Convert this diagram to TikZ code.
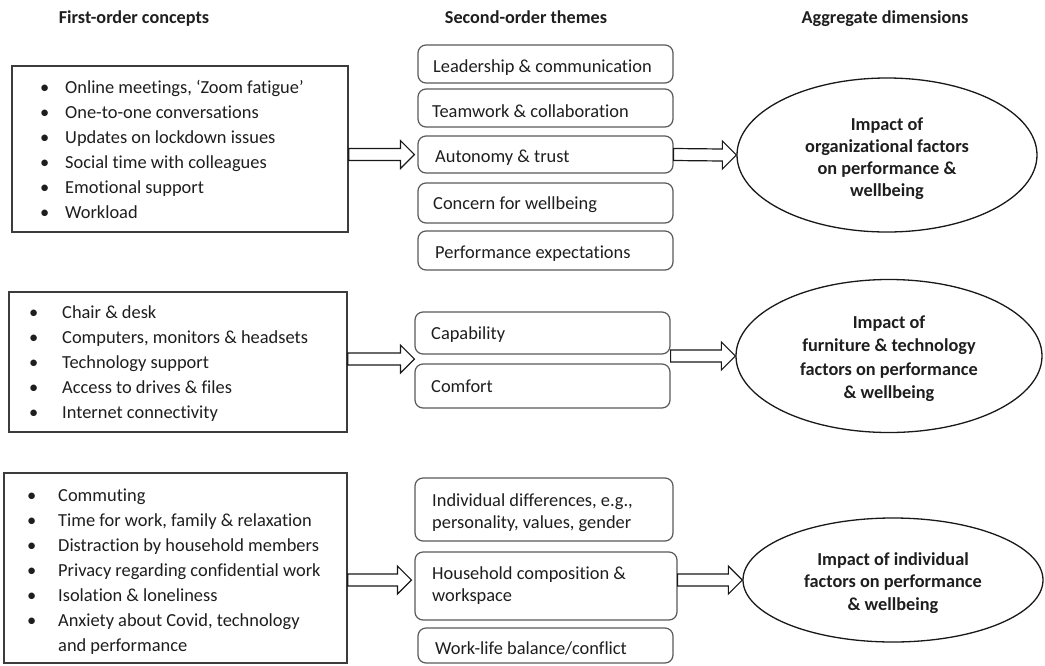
\documentclass[tikz,border=0pt]{standalone}
\usepackage{fontspec}
\setmainfont{Carlito}[Ligatures=NoCommon]
\usetikzlibrary{calc,shapes.geometric}
\definecolor{ln}{HTML}{3C3C3C}
\definecolor{rl}{HTML}{5A5A5A}
\definecolor{tx}{HTML}{1E1E1E}
\tikzset{
  bodyfont/.style={font=\fontsize{18.4}{22}\selectfont},
  headfont/.style={font=\bfseries\fontsize{18.2}{22}\selectfont},
  conceptbox/.style={draw=ln, line width=1.5pt, rectangle, inner sep=0pt},
  themebox/.style={draw=rl, line width=1.2pt, rectangle, rounded corners=8pt, inner sep=0pt},
  dimension/.style={draw=black!90, line width=1.3pt, ellipse, inner sep=0pt},
  dimtext/.style={anchor=base, inner sep=0pt, text=tx, font=\bfseries\fontsize{18.3}{22.5}\selectfont},
  txt/.style={anchor=base west, inner sep=0pt, text=tx, bodyfont},
  hdr/.style={anchor=base, inner sep=0pt, text=tx, headfont},
  blk/.style={draw=black!90, line width=1.2pt, fill=white, line join=miter}
}
\newcommand\blkarrow[2]{%
  \draw[blk] ($(#1)+(0,6)$) -- ($(#2)+(-14,6)$) -- ($(#2)+(-14,14)$) -- (#2)
    -- ($(#2)+(-14,-14)$) -- ($(#2)+(-14,-6)$) -- ($(#1)+(0,-6)$) -- cycle;}
\begin{document}
\begin{tikzpicture}[x=1pt,y=-1pt]
\useasboundingbox (0,0) rectangle (1045,665);
\fill[white] (0,0) rectangle (1045,665);

% headers
\node[hdr] (h1) at (134,23) {First-order concepts};
\node[hdr] (h2) at (526,23) {Second-order themes};
\node[hdr] (h3) at (885,23) {Aggregate dimensions};

% first-order concept boxes
\node[conceptbox, minimum width=336pt, minimum height=166pt] (c1) at (180,149) {};
\node[conceptbox, minimum width=338pt, minimum height=140pt] (c2) at (178,362) {};
\node[conceptbox, minimum width=343pt, minimum height=190pt] (c3) at (175.5,568) {};

\foreach \t [count=\i] in {{Online meetings, ‘Zoom fatigue’},One-to-one conversations,Updates on lockdown issues,Social time with colleagues,Emotional support,Workload}{
  \node[txt] (b1-\i) at (40,{93+25*(\i-1)}) {\textbullet};
  \node[txt] (t1-\i) at (65,{93+25*(\i-1)}) {\t};
}
\foreach \t [count=\i] in {Chair \& desk,{Computers, monitors \& headsets},Technology support,Access to drives \& files,Internet connectivity}{
  \node[txt] (b2-\i) at (29,{318+25*(\i-1)}) {\textbullet};
  \node[txt] (t2-\i) at (62,{318+25*(\i-1)}) {\t};
}
\foreach \t [count=\i] in {Commuting,{Time for work, family \& relaxation},Distraction by household members,Privacy regarding confidential work,Isolation \& loneliness,{Anxiety about Covid, technology}}{
  \node[txt] (b3-\i) at (27,{501+25*(\i-1)}) {\textbullet};
  \node[txt] (t3-\i) at (58,{501+25*(\i-1)}) {\t};
}
\node[txt] (t3-7) at (58,651) {and performance};

% second-order theme boxes
\node[themebox, minimum width=255pt, minimum height=38pt] (lead) at (545.5,64) {};
\node[themebox, minimum width=255pt, minimum height=38pt] (team) at (545.5,108) {};
\node[themebox, minimum width=255pt, minimum height=37pt] (auto) at (545.5,154.5) {};
\node[themebox, minimum width=255pt, minimum height=40pt] (conc) at (545.5,203) {};
\node[themebox, minimum width=255pt, minimum height=39pt] (perf) at (545.5,250.5) {};
\node[themebox, minimum width=255pt, minimum height=42pt] (cap) at (542.5,333) {};
\node[themebox, minimum width=255pt, minimum height=44pt] (com) at (542.5,386) {};
\node[themebox, minimum width=258pt, minimum height=63pt] (ind) at (544,509.5) {};
\node[themebox, minimum width=262pt, minimum height=68pt] (hh) at (546,586) {};
\node[themebox, minimum width=255pt, minimum height=35pt] (wl) at (545.5,645.5) {};

\node[txt] (tl) at (433,72) {Leadership \& communication};
\node[txt] (tt) at (432,117) {Teamwork \& collaboration};
\node[txt] (ta) at (435,162) {Autonomy \& trust};
\node[txt] (tc) at (433,209) {Concern for wellbeing};
\node[txt] (tp) at (435,258) {Performance expectations};
\node[txt] (tcap) at (431,339) {Capability};
\node[txt] (tcom) at (431,392) {Comfort};
\node[txt] (ti1) at (432,506) {Individual differences, e.g.,};
\node[txt] (ti2) at (432,528) {personality, values, gender};
\node[txt] (th1) at (432,579) {Household composition \&};
\node[txt] (th2) at (432,601) {workspace};
\node[txt] (tw) at (435,654) {Work-life balance/conflict};

% aggregate dimensions
\node[dimension, minimum width=300pt, minimum height=154pt] (e1) at (887,155) {};
\node[dimension, minimum width=306pt, minimum height=153pt] (e2) at (889,356) {};
\node[dimension, minimum width=300pt, minimum height=124pt] (e3) at (893,580) {};

\foreach \t [count=\i] in {Impact of,organizational factors,on performance \&,wellbeing}{
  \node[dimtext] (e1-\i) at (887,{130+22.3*(\i-1)}) {\t};
}
\foreach \t [count=\i] in {Impact of,furniture \& technology,factors on performance,\& wellbeing}{
  \node[dimtext] (e2-\i) at (889,{328+23.5*(\i-1)}) {\t};
}
\foreach \t [count=\i] in {Impact of individual,factors on performance,\& wellbeing}{
  \node[dimtext] (e3-\i) at (893,{565+22.5*(\i-1)}) {\t};
}

% arrows
\coordinate (a1e) at ($(auto.west)+(-3,0)$);
\coordinate (a1s) at (c1.east |- a1e);
\coordinate (a2e) at ($(cap.south west)!0.5!(com.north west)$);
\coordinate (a2s) at (c2.east |- a2e);
\coordinate (a3e) at ($(hh.west)+(-3,-6)$);
\coordinate (a3s) at (c3.east |- a3e);
\coordinate (o2s) at (cap.east |- e2.west);
\coordinate (o3s) at (hh.east |- e3.west);
\blkarrow{a1s}{a1e}
\blkarrow{a2s}{a2e}
\blkarrow{a3s}{a3e}
\blkarrow{auto.east}{e1.west}
\blkarrow{o2s}{e2.west}
\blkarrow{o3s}{e3.west}
\end{tikzpicture}
\end{document}
